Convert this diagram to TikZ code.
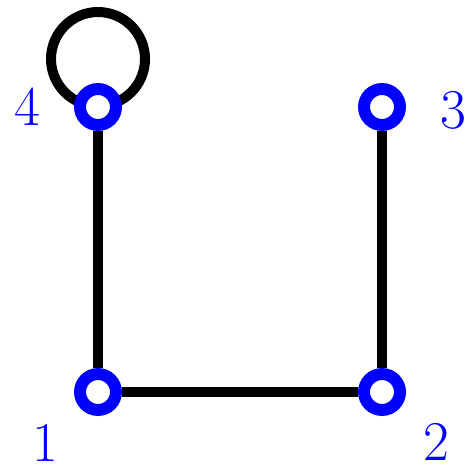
\documentclass[tikz,border=0pt]{standalone}
\usepackage{tikz}
\usetikzlibrary{backgrounds}

\begin{document}
\begin{tikzpicture}[x=0.02cm, y=-0.02cm,
    vertex/.style={circle, draw=blue, fill=white, line width=6.8pt,
                   inner sep=0pt, minimum size=0.72cm},
    vlabel/.style={text=blue, inner sep=0pt, font=\fontsize{32}{38}\selectfont},
    edge/.style={line width=5.7pt, black}]

  % bounding box in pixels of the reference
  \useasboundingbox (0,0) rectangle (467,466);

  % vertex positions
  \def\xL{98}
  \def\xR{382}
  \def\yT{107}
  \def\yB{392}

  % vertices
  \node[vertex] (v1) at (\xL, \yB) {};
  \node[vertex] (v2) at (\xR, \yB) {};
  \node[vertex] (v3) at (\xR, \yT) {};
  \node[vertex] (v4) at (\xL, \yT) {};

  % vertex labels
  \node[vlabel] (l1) at (45, 443) {1};
  \node[vlabel] (l2) at (436, 442) {2};
  \node[vlabel] (l3) at (453, 110) {3};
  \node[vlabel] (l4) at (27, 107) {4};

  % edges (under the vertices)
  \begin{pgfonlayer}{background}
    \draw[edge] (v1) -- (v2);
    \draw[edge] (v2) -- (v3);
    \draw[edge] (v1) -- (v4);
    % loop at 4
    \draw[edge] ([yshift=0.96cm]v4.center) circle (0.94cm);
  \end{pgfonlayer}

\end{tikzpicture}
\end{document}
